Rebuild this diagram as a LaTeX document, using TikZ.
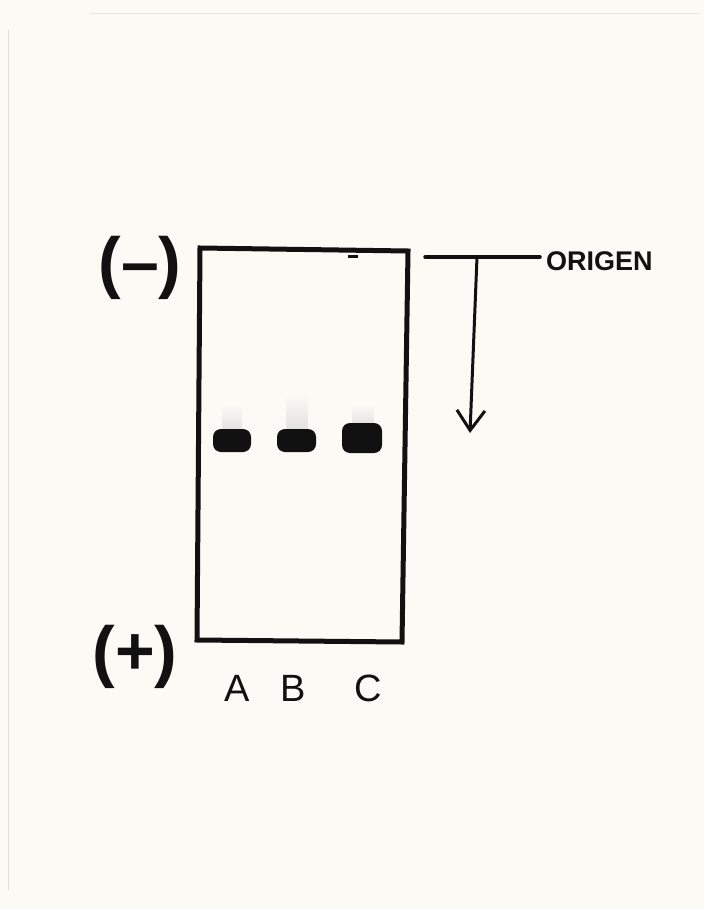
\documentclass[tikz,border=0pt]{standalone}
\usepackage{fontspec}
\setmainfont{Liberation Sans}
\usetikzlibrary{arrows.meta}
\definecolor{paper}{HTML}{FCFAF5}
\definecolor{ink}{HTML}{111111}
\tikzset{
  gelline/.style={line width=5pt, draw=ink, line join=miter},
  band/.style={fill=ink, rounded corners=8pt},
  smear/.style={top color=paper, bottom color=black!12, draw=none},
  lanelabel/.style={font=\fontsize{38}{38}\selectfont, text=ink, inner sep=0pt},
  polarity/.style={font=\fontsize{68}{68}\selectfont\bfseries, text=ink, inner sep=0pt},
  thinline/.style={line width=3.5pt, draw=ink, line cap=round}
}
\begin{document}
\begin{tikzpicture}[x=1pt,y=-1pt]
\fill[paper] (0,0) rectangle (704,909);
\useasboundingbox (0,0) rectangle (704,909);
% faint paper edges
\draw[black!12, line width=0.8pt] (8,30) -- (8,890);
\draw[black!10, line width=0.8pt] (90,13) -- (700,13);
% gel
\draw[gelline] (200,248) -- (408,251) -- (402,642) -- (197,640) -- cycle;
\fill[ink] (348,255) rectangle (358,258);
% bands
\shade[smear] (222,405) rectangle (242,432);
\shade[smear] (286,395) rectangle (308,432);
\shade[smear] (352,405) rectangle (374,426);
\fill[band] (213,429) rectangle (251,452);
\fill[band] (277,429) rectangle (316,452);
\fill[band] (342,423) rectangle (382,453);
% polarity
\node[polarity] (minus) at (140,268) {(–)};
\node[polarity] (plus) at (135,657) {(+)};
% lane labels
\node[lanelabel] (A) at (237,688) {A};
\node[lanelabel] (B) at (293,688) {B};
\node[lanelabel] (C) at (368,688) {C};
% origin
\coordinate (o1) at (425,257);
\coordinate (o2) at (540,257);
\coordinate (top) at (477,257);
\coordinate (tip) at (470,433);
\draw[thinline] (o1) -- (o2);
\node[font=\fontsize{27}{27}\selectfont\bfseries, text=ink, anchor=west, inner sep=0pt] (origen) at (546,261) {ORIGEN};
\draw[line width=3pt, draw=ink, -{Straight Barb[length=20pt,width=28pt,line width=3pt]}] (top) -- (tip);
\end{tikzpicture}
\end{document}
